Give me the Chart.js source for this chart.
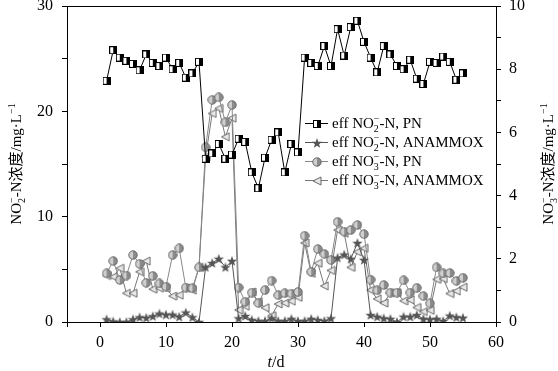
<!DOCTYPE html>
<html>
<head>
<meta charset="utf-8">
<script src="https://cdn.jsdelivr.net/npm/chart.js@4.4.0/dist/chart.umd.min.js"></script>
<style>
  html, body { margin: 0; padding: 0; background: #fff; }
  #chart { display: block; }
</style>
</head>
<body>
<canvas id="chart" width="558" height="371"></canvas>
<script>
// days of operation
var days = [1, 2, 3, 4, 5, 6, 7, 8, 9, 10, 11, 12, 13, 14, 15, 16, 17, 18, 19, 20,
  21, 22, 23, 24, 25, 26, 27, 28, 29, 30, 31, 32, 33, 34, 35, 36, 37, 38, 39, 40,
  41, 42, 43, 44, 45, 46, 47, 48, 49, 50, 51, 52, 53, 54, 55];

// eff NO2-N, PN  (left axis, mg/L)
var no2PN = [22.9, 25.8, 25.1, 24.8, 24.5, 23.9, 25.4, 24.6, 24.3, 25.1, 24.0, 24.6, 23.2, 23.6, 24.7,
  15.5, 16.0, 16.9, 15.5, 15.9, 17.4, 17.1, 14.2, 12.7, 15.6, 17.3, 18.0, 14.2, 16.9, 16.1,
  25.1, 24.6, 24.3, 26.2, 24.3, 27.8, 25.3, 28.0, 28.6, 26.6, 25.1, 23.7, 26.2, 25.4, 24.3,
  24.0, 24.9, 23.1, 22.6, 24.7, 24.6, 25.2, 24.7, 23.0, 23.6];

// eff NO2-N, ANAMMOX (left axis)
var no2AN = [0.25, 0.05, 0, 0, 0.25, 0.45, 0.4, 0.55, 0.8, 0.7, 0.7, 0.5, 0.9, 0.45, 0,
  5.2, 5.6, 6.0, 5.2, 5.8, 0.35, 0.57, 0.2, 0.1, 0.1, 0.35, 0.1, 0.1, 0.3, 0.1,
  0.1, 0.3, 0.2, 0.1, 0.35, 6.1, 6.4, 6.0, 7.5, 5.9, 0.66, 0.5, 0.35, 0.3, 0,
  0.5, 0.5, 0.66, 0.3, 0.25, 0.3, 0.1, 0.6, 0.45, 0.4];

// eff NO3-N, PN (right axis)
var no3PN = [1.54, 1.93, 1.33, 1.47, 2.12, 1.84, 1.24, 1.46, 1.22, 1.12, 2.12, 2.33, 1.09, 1.07, 1.73,
  5.53, 7.03, 7.11, 6.32, 6.87, 1.09, 0.64, 0.93, 0.6, 1.01, 1.31, 0.85, 0.91, 0.9, 0.95,
  2.73, 1.59, 2.31, 2.15, 1.96, 3.17, 2.86, 2.91, 3.07, 2.78, 1.34, 1.0, 1.17, 0.93, 0.93,
  1.32, 0.93, 1.08, 0.82, 0.59, 1.73, 1.54, 1.55, 1.3, 1.4];

// eff NO3-N, ANAMMOX (right axis)
var no3AN = [1.47, 1.43, 1.70, 0.91, 0.91, 1.59, 1.93, 1.04, 1.07, 1.07, 0.82, 0.85, 1.07, 1.01, 1.73,
  5.23, 6.6, 6.76, 5.86, 6.45, 0.38, 0.5, 0.95, 0.64, 0.45, 0.2, 0.57, 0.6, 0.66, 0.78,
  2.5, 1.54, 1.86, 1.14, 1.63, 2.91, 2.81, 1.73, 2.22, 2.33, 1.01, 0.73, 0.6, 0.92, 0.93,
  0.67, 0.7, 0.46, 0.33, 0.37, 1.35, 1.37, 0.9, 0.98, 1.1];

var SERIF = '"Liberation Serif", "Noto Sans CJK SC", serif';

function mk(w, h, fn) {
  var c = document.createElement("canvas");
  c.width = w; c.height = h;
  fn(c.getContext("2d"));
  return c;
}

// marker images
var markSquare = mk(8, 8, function (g) {
  g.fillStyle = "#000"; g.fillRect(0, 0, 8, 8);
  g.fillStyle = "#fff"; g.fillRect(1, 1, 3, 6);
});
var markStar = mk(12, 12, function (g) {
  g.fillStyle = "#555";
  g.beginPath();
  for (var i = 0; i < 10; i++) {
    var r = i % 2 ? 2.2 : 5.4;
    var a = -Math.PI / 2 + i * Math.PI / 5;
    g.lineTo(6 + r * Math.cos(a), 6.5 + r * Math.sin(a));
  }
  g.closePath(); g.fill();
});
var markCircle = mk(10, 10, function (g) {
  g.beginPath(); g.arc(5, 5, 4.2, 0, 2 * Math.PI);
  g.fillStyle = "#cfcfcf"; g.fill();
  g.beginPath(); g.arc(5, 5, 4.2, -Math.PI / 2, Math.PI / 2);
  g.fillStyle = "#8c8c8c"; g.fill();
  g.beginPath(); g.arc(5, 5, 4.2, 0, 2 * Math.PI);
  g.strokeStyle = "#666"; g.lineWidth = 1; g.stroke();
});
var markTri = mk(10, 10, function (g) {
  g.beginPath(); g.moveTo(1, 5); g.lineTo(9, 1); g.lineTo(9, 9); g.closePath();
  g.fillStyle = "#e8e8e8"; g.fill();
  g.strokeStyle = "#666"; g.lineWidth = 1; g.stroke();
});

function pts(ys) {
  return days.map(function (d, i) { return { x: d, y: ys[i] }; });
}

// rich text: parts = [[text, kind], ...], kind n | i | sup | ss (stacked sub+sup)
function richWidth(g, parts, size) {
  var w = 0, small = Math.round(size * 0.65);
  parts.forEach(function (p) {
    if (p[1] == "ss") {
      g.font = small + "px " + SERIF;
      w += Math.max(g.measureText(p[0]).width, g.measureText(p[2]).width);
    } else if (p[1] == "sup") {
      g.font = small + "px " + SERIF;
      w += g.measureText(p[0]).width;
    } else {
      g.font = (p[1] == "i" ? "italic " : "") + size + "px " + SERIF;
      w += g.measureText(p[0]).width;
    }
  });
  return w;
}
function drawRich(g, parts, x, y, size) {
  var small = Math.round(size * 0.65);
  g.textBaseline = "alphabetic"; g.textAlign = "left"; g.fillStyle = "#000";
  parts.forEach(function (p) {
    if (p[1] == "ss") {
      g.font = small + "px " + SERIF;
      g.fillText(p[0], x, y + size * 0.25);
      g.fillText(p[2], x, y - size * 0.42);
      x += Math.max(g.measureText(p[0]).width, g.measureText(p[2]).width);
    } else if (p[1] == "sup") {
      g.font = small + "px " + SERIF;
      g.fillText(p[0], x, y - size * 0.42);
      x += g.measureText(p[0]).width;
    } else {
      g.font = (p[1] == "i" ? "italic " : "") + size + "px " + SERIF;
      g.fillText(p[0], x, y);
      x += g.measureText(p[0]).width;
    }
  });
}

var legendRows = [
  { parts: [["eff NO", "n"], ["2", "ss", "\u2212"], ["-N, PN", "n"]], color: "#000", mark: markSquare },
  { parts: [["eff NO", "n"], ["2", "ss", "\u2212"], ["-N, ANAMMOX", "n"]], color: "#555", mark: markStar },
  { parts: [["eff NO", "n"], ["3", "ss", "\u2212"], ["-N, PN", "n"]], color: "#888", mark: markCircle },
  { parts: [["eff NO", "n"], ["3", "ss", "\u2212"], ["-N, ANAMMOX", "n"]], color: "#777", mark: markTri }
];

var extras = {
  id: "extras",
  afterDraw: function (chart) {
    var g = chart.ctx, a = chart.chartArea;
    g.save();
    // top frame line
    g.strokeStyle = "#000"; g.lineWidth = 1;
    g.beginPath(); g.moveTo(a.left, a.top + 0.5); g.lineTo(a.right, a.top + 0.5); g.stroke();

    var cy = (a.top + a.bottom) / 2;
    var leftT = [["NO", "n"], ["2", "ss", "\u2212"], ["-N浓度/mg·L", "n"], ["\u22121", "sup"]];
    var rightT = [["NO", "n"], ["3", "ss", "\u2212"], ["-N浓度/mg·L", "n"], ["\u22121", "sup"]];
    [[leftT, 16], [rightT, 548]].forEach(function (t) {
      var w = richWidth(g, t[0], 15);
      g.save();
      g.translate(t[1], cy);
      g.rotate(-Math.PI / 2);
      drawRich(g, t[0], -w / 2, 5, 15);
      g.restore();
    });

    var xt = [["t", "i"], ["/d", "n"]];
    var xw = richWidth(g, xt, 16);
    drawRich(g, xt, 276 - xw / 2, 367, 16);

    // legend
    legendRows.forEach(function (r, i) {
      var y = 123 + i * 19;
      g.strokeStyle = r.color; g.lineWidth = 1;
      g.beginPath(); g.moveTo(305, y + 0.5); g.lineTo(328, y + 0.5); g.stroke();
      g.drawImage(r.mark, Math.round(317 - r.mark.width / 2), Math.round(y - r.mark.height / 2) + 1);
      drawRich(g, r.parts, 332, y + 5, 15);
    });
    g.restore();
  }
};

function ds(label, ys, axis, color, mark) {
  return {
    label: label, data: pts(ys), yAxisID: axis,
    borderColor: color, borderWidth: 1, pointStyle: mark,
    pointRadius: 4, pointHoverRadius: 4, tension: 0, fill: false
  };
}

var ctx = document.getElementById("chart");
var myChart = new Chart(ctx, {
  type: "line",
  data: {
    datasets: [
      ds("eff NO2-N, PN", no2PN, "y", "#000", markSquare),
      ds("eff NO2-N, ANAMMOX", no2AN, "y", "#555", markStar),
      ds("eff NO3-N, PN", no3PN, "y2", "#888", markCircle),
      ds("eff NO3-N, ANAMMOX", no3AN, "y2", "#777", markTri)
    ]
  },
  options: {
    responsive: false,
    animation: false,
    layout: { padding: { top: 6, left: 0, right: 0, bottom: 0 } },
    plugins: { legend: { display: false }, tooltip: { enabled: false } },
    scales: {
      x: {
        type: "linear", min: -5, max: 60,
        ticks: {
          stepSize: 10, padding: 6, color: "#000", maxRotation: 0,
          font: { family: SERIF, size: 16 },
          callback: function (v) { return v % 10 === 0 ? v : ""; }
        },
        grid: { drawOnChartArea: false, tickLength: 5, color: "#000" },
        border: { color: "#000", width: 1 },
        afterFit: function (s) { s.height = 49; s.paddingLeft = 0; s.paddingRight = 0; }
      },
      y: {
        position: "left", min: 0, max: 30,
        ticks: {
          stepSize: 5, padding: 9, color: "#000",
          font: { family: SERIF, size: 16 },
          callback: function (v) { return v % 10 === 0 ? v : ""; }
        },
        grid: { drawOnChartArea: false, tickLength: 5, color: "#000" },
        border: { color: "#000", width: 1 },
        afterFit: function (s) { s.width = 67; s.paddingTop = 0; s.paddingBottom = 0; }
      },
      y2: {
        position: "right", min: 0, max: 10,
        ticks: {
          stepSize: 1, padding: 8, color: "#000",
          font: { family: SERIF, size: 16 },
          callback: function (v) { return v % 2 === 0 ? v : ""; }
        },
        grid: { drawOnChartArea: false, tickLength: 5, color: "#000" },
        border: { color: "#000", width: 1 },
        afterFit: function (s) { s.width = 62; s.paddingTop = 0; s.paddingBottom = 0; }
      }
    }
  },
  plugins: [extras]
});
</script>
</body>
</html>
